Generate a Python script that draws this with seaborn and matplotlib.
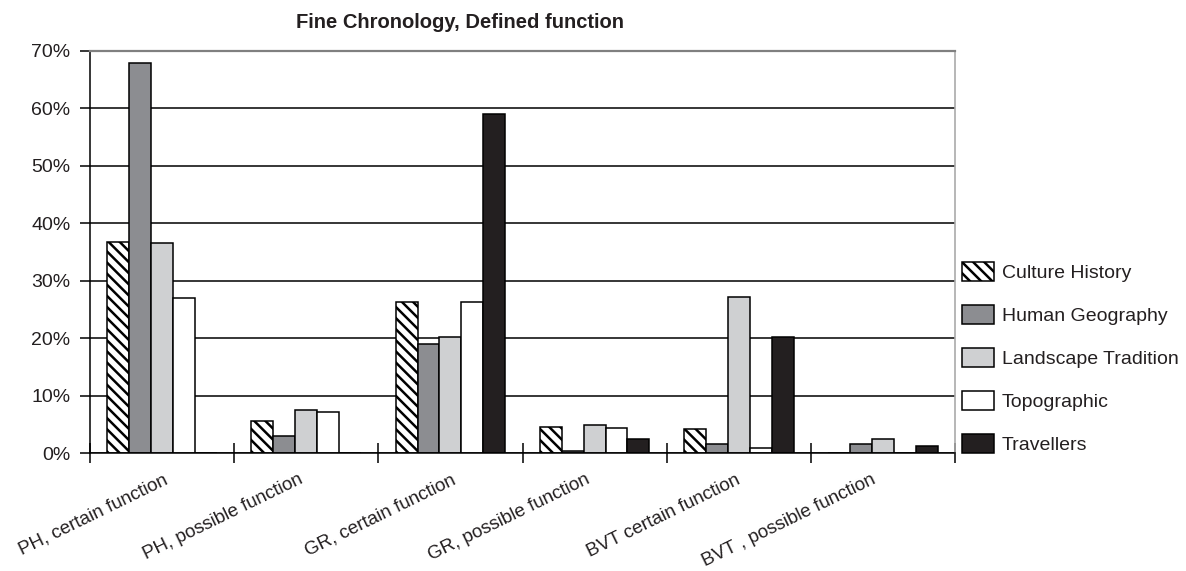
import matplotlib
matplotlib.use("Agg")
import matplotlib.pyplot as plt
import matplotlib.transforms as mtransforms
from matplotlib.ticker import FixedLocator, PercentFormatter
import seaborn as sns
import pandas as pd

categories = ["PH, certain function", "PH, possible function", "GR, certain function",
              "GR, possible function", "BVT certain function", "BVT , possible function"]
series_names = ["Culture History", "Human Geography", "Landscape Tradition", "Topographic", "Travellers"]
culture_history = [36.8, 5.6, 26.2, 4.6, 4.1, 0.0]
human_geography = [67.8, 3.0, 18.9, 0.3, 1.5, 1.5]
landscape_tradition = [36.5, 7.4, 20.1, 4.9, 27.2, 2.5]
topographic = [26.9, 7.1, 26.2, 4.3, 0.9, 0.0]
travellers = [0.0, 0.0, 59.0, 2.5, 20.1, 1.2]
y_ticks = [0, 10, 20, 30, 40, 50, 60, 70]
title = "Fine Chronology, Defined function"

colors = ["#ffffff", "#8c8d91", "#cfd0d2", "#ffffff", "#231f20"]
label_dx_px = [1, -8, 1, -9, -3, -12]
HATCH = chr(92) * 3

rows = []
for name, vals in zip(series_names, [culture_history, human_geography, landscape_tradition, topographic, travellers]):
    for c, v in zip(categories, vals):
        rows.append({"category": c, "series": name, "value": v})
df = pd.DataFrame(rows)

sns.set_theme(style="white")
plt.rcParams["font.family"] = ["Liberation Sans", "DejaVu Sans"]
plt.rcParams["hatch.linewidth"] = 1.8
plt.rcParams["hatch.color"] = "black"

W, H = 1186, 571
fig = plt.figure(figsize=(W / 100, H / 100), dpi=100)
ax = fig.add_axes([90 / W, (H - 453) / H, (955 - 90) / W, (453 - 50.7) / H])

sns.barplot(data=df, x="category", y="value", hue="series", order=categories,
            hue_order=series_names, palette=colors, width=0.76, ax=ax,
            edgecolor="black", linewidth=1.1, legend=True, errorbar=None, saturation=1)

for patch in ax.containers[0].patches:
    patch.set_hatch(HATCH)
    patch.set_edgecolor("black")

ax.set_ylim(0, 70)
ax.set_xlim(-0.5, len(categories) - 0.5)
ax.yaxis.set_major_locator(FixedLocator(y_ticks))
ax.yaxis.set_major_formatter(PercentFormatter(decimals=0))
ax.grid(axis="y", color="black", linewidth=1.1)
ax.set_axisbelow(True)
ax.set_xlabel("")
ax.set_ylabel("")

for s in ["left", "bottom"]:
    ax.spines[s].set_color("black")
    ax.spines[s].set_linewidth(1.1)
ax.spines["top"].set_color("#808080")
ax.spines["top"].set_linewidth(1.6)
ax.spines["right"].set_color("#aaaaaa")
ax.spines["right"].set_linewidth(1.2)

ax.tick_params(axis="y", direction="out", length=7, width=1.1, color="black",
               left=True, pad=7, labelsize=14, labelcolor="#231f20")
ax.set_xticks(range(len(categories)))
ax.set_xticks([i - 0.5 for i in range(len(categories) + 1)], minor=True)
ax.tick_params(axis="x", which="major", length=0, pad=13, labelsize=13.5, labelcolor="#231f20")
ax.tick_params(axis="x", which="minor", direction="inout", length=14, width=1.1,
               color="black", bottom=True)
for lab, dx in zip(ax.get_xticklabels(), label_dx_px):
    lab.set_rotation(26)
    lab.set_ha("right")
    lab.set_rotation_mode("anchor")
    offset = mtransforms.ScaledTranslation(dx / 100, 0, fig.dpi_scale_trans)
    lab.set_transform(lab.get_transform() + offset)

fig.text(460 / W, 1 - 22 / H, title, ha="center", va="center",
         fontsize=14.5, fontweight="bold", color="#231f20")

handles, labels = ax.get_legend_handles_labels()
if ax.legend_:
    ax.legend_.remove()
handles[0].set_hatch(HATCH)
leg = fig.legend(handles, labels, loc="upper left",
                 bbox_to_anchor=(962 / W, 1 - 261.5 / H), frameon=False,
                 handlelength=1.65, handleheight=1.13, handletextpad=0.4,
                 labelspacing=1.18, fontsize=14, borderpad=0, borderaxespad=0)
for t in leg.get_texts():
    t.set_color("#231f20")

fig.savefig("out.png", dpi=100)
